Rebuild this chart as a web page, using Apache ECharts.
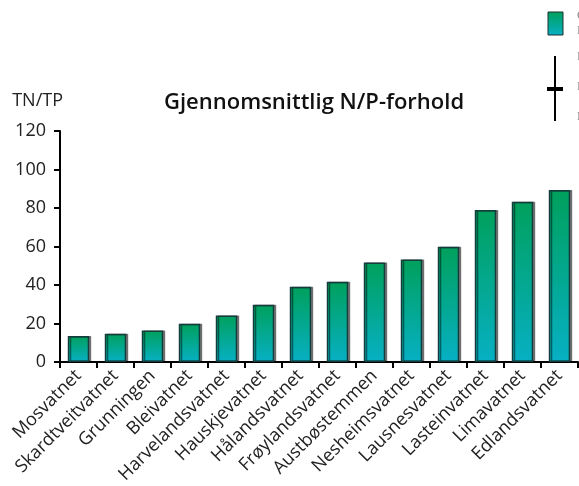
<!DOCTYPE html>
<html>
<head>
<meta charset="utf-8">
<script src="https://cdn.jsdelivr.net/npm/echarts@6/dist/echarts.min.js"></script>
<style>
  html, body { margin: 0; padding: 0; background: #fff; }
  #chart { width: 579px; height: 486px; }
</style>
</head>
<body>
<div id="chart"></div>
<script>
// Average N/P ratio (TN/TP) per lake
const lakes = [
  'Mosvatnet', 'Skardtveitvatnet', 'Grunningen', 'Bleivatnet', 'Harvelandsvatnet',
  'Hauskjevatnet', 'Hålandsvatnet', 'Frøylandsvatnet', 'Austbøstemmen', 'Nesheimsvatnet',
  'Lausnesvatnet', 'Lasteinvatnet', 'Limavatnet', 'Edlandsvatnet'
];
const npRatio = [13.5, 14.7, 16.3, 19.9, 24.2, 29.7, 39.1, 41.7, 51.7, 53.2, 59.8, 79.0, 83.3, 89.3];
const yTicks = [0, 20, 40, 60, 80, 100, 120];

function barGradient() {
  return new echarts.graphic.LinearGradient(0, 0, 0, 1, [
    { offset: 0, color: '#00a05c' },
    { offset: 1, color: '#07b0c4' }
  ]);
}

const chart = echarts.init(document.getElementById('chart'), null, { renderer: 'canvas' });

const legendFont = '12px "Liberation Serif", serif';

chart.setOption({
  animation: false,
  backgroundColor: '#ffffff',
  textStyle: { fontFamily: 'Open Sans, Noto Sans, sans-serif' },
  title: {
    text: 'Gjennomsnittlig N/P-forhold',
    left: 159,
    top: 87,
    textStyle: { fontSize: 22, fontWeight: 600, color: '#111', fontFamily: 'Open Sans, sans-serif' }
  },
  grid: { left: 60, right: 1, top: 131, bottom: 123, containLabel: false },
  xAxis: {
    type: 'category',
    data: lakes,
    axisLine: { lineStyle: { color: '#000', width: 2 } },
    axisTick: { show: true, alignWithLabel: false, length: 6, lineStyle: { color: '#000', width: 2 } },
    axisLabel: { rotate: 45, fontSize: 18, color: '#222', margin: 11, interval: 0 }
  },
  yAxis: {
    type: 'value',
    min: yTicks[0],
    max: yTicks[yTicks.length - 1],
    interval: 20,
    name: 'TN/TP',
    nameLocation: 'end',
    nameGap: 21,
    nameTextStyle: { fontSize: 18, color: '#222', align: 'right', padding: [0, -3, 0, 0] },
    splitLine: { show: false },
    axisLine: { show: true, lineStyle: { color: '#000', width: 2 } },
    axisTick: { show: true, length: 6, lineStyle: { color: '#000', width: 2 } },
    axisLabel: { fontSize: 18, color: '#222', margin: 14 }
  },
  series: [{
    type: 'bar',
    data: npRatio,
    barWidth: '58%',
    itemStyle: {
      color: barGradient(),
      borderColor: '#143c3c',
      borderWidth: 1.5,
      shadowColor: 'rgba(0,0,0,0.45)',
      shadowOffsetX: 2,
      shadowOffsetY: 0,
      shadowBlur: 0
    }
  }],
  graphic: [
    // legend swatch for the bars
    {
      type: 'rect',
      shape: { x: 548, y: 12, width: 15, height: 23 },
      style: { fill: barGradient(), stroke: '#1f2f2f', lineWidth: 1 }
    },
    // legend range symbol (max / mean / min)
    { type: 'line', shape: { x1: 555, y1: 56, x2: 555, y2: 121 }, style: { stroke: '#000', lineWidth: 2 } },
    { type: 'line', shape: { x1: 547, y1: 89, x2: 563, y2: 89 }, style: { stroke: '#000', lineWidth: 4 } },
    // legend texts
    { type: 'text', x: 577, y: 10, style: { text: 'Gjennomsnitt', fill: '#888', font: legendFont } },
    { type: 'text', x: 577, y: 25, style: { text: 'N/P-forhold', fill: '#888', font: legendFont } },
    { type: 'text', x: 577, y: 51, style: { text: 'Maks', fill: '#888', font: legendFont } },
    { type: 'text', x: 577, y: 81, style: { text: 'Middel', fill: '#888', font: legendFont } },
    { type: 'text', x: 577, y: 111, style: { text: 'Min', fill: '#888', font: legendFont } }
  ]
});
</script>
</body>
</html>
